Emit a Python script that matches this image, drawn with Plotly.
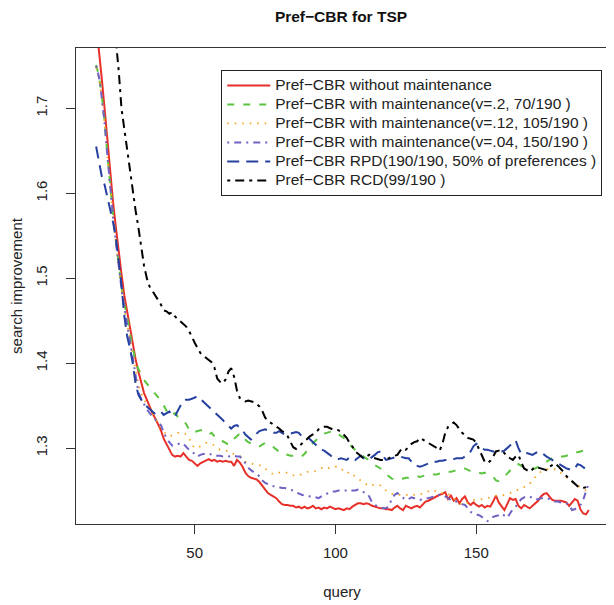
import plotly.graph_objects as go

# ---------------- data ----------------
query = list(range(15, 191))

no_maint = [
    1.800, 1.770, 1.735, 1.700, 1.660, 1.625, 1.590, 1.560, 1.530, 1.505,
    1.480, 1.460, 1.440, 1.425, 1.405, 1.390, 1.376, 1.365, 1.357, 1.348,
    1.341, 1.335, 1.328, 1.321, 1.311, 1.304, 1.299, 1.292, 1.290, 1.291,
    1.290, 1.294, 1.290, 1.286, 1.285, 1.282, 1.279, 1.282, 1.284, 1.285,
    1.287, 1.285, 1.286, 1.284, 1.285, 1.284, 1.285, 1.284, 1.284, 1.279,
    1.286, 1.283, 1.278, 1.271, 1.267, 1.265, 1.264, 1.263, 1.260, 1.256,
    1.251, 1.247, 1.245, 1.243, 1.241, 1.237, 1.234, 1.233, 1.233, 1.232,
    1.232, 1.230, 1.231, 1.229, 1.231, 1.229, 1.230, 1.232, 1.229, 1.230,
    1.228, 1.230, 1.229, 1.231, 1.229, 1.228, 1.229, 1.228, 1.227, 1.229,
    1.228, 1.231, 1.233, 1.235, 1.235, 1.234, 1.235, 1.234, 1.232, 1.231,
    1.230, 1.229, 1.229, 1.228, 1.228, 1.227, 1.230, 1.232, 1.229, 1.227,
    1.232, 1.230, 1.229, 1.231, 1.232, 1.230, 1.234, 1.237, 1.238, 1.240,
    1.241, 1.243, 1.245, 1.246, 1.248, 1.240, 1.244, 1.238, 1.241, 1.235,
    1.240, 1.243, 1.236, 1.233, 1.236, 1.233, 1.231, 1.233, 1.230, 1.232,
    1.231, 1.237, 1.244, 1.236, 1.232, 1.227, 1.234, 1.241, 1.239, 1.240,
    1.232, 1.229, 1.233, 1.231, 1.229, 1.232, 1.235, 1.238, 1.243, 1.246,
    1.247, 1.243, 1.239, 1.238, 1.238, 1.238, 1.237, 1.236, 1.232, 1.236,
    1.240, 1.238, 1.228, 1.223, 1.222, 1.227,
]

maint_v20 = [
    1.751, 1.738, 1.715, 1.685, 1.645, 1.605, 1.575, 1.545, 1.515, 1.490,
    1.470, 1.455, 1.435, 1.418, 1.402, 1.393, 1.386, 1.380, 1.376, 1.372,
    1.368, 1.364, 1.360, 1.356, 1.350, 1.343, 1.338, 1.340, 1.341, 1.337,
    1.335, 1.333, 1.328, 1.322, 1.318, 1.319, 1.320, 1.321, 1.321, 1.318,
    1.316, 1.318, 1.314, 1.310, 1.309, 1.308, 1.306, 1.304, 1.306, 1.311,
    1.314, 1.317, 1.316, 1.310, 1.307, 1.305, 1.304, 1.304, 1.302, 1.304,
    1.306, 1.305, 1.302, 1.301, 1.298, 1.295, 1.293, 1.292, 1.292, 1.291,
    1.291, 1.290, 1.290, 1.290, 1.293, 1.298, 1.302, 1.306, 1.309, 1.313,
    1.315, 1.317, 1.318, 1.319, 1.320, 1.319, 1.316, 1.314, 1.312, 1.308,
    1.305, 1.301, 1.298, 1.296, 1.293, 1.290, 1.288, 1.286, 1.283, 1.280,
    1.278, 1.276, 1.272, 1.269, 1.266, 1.264, 1.263, 1.264, 1.265, 1.264,
    1.265, 1.265, 1.266, 1.267, 1.267, 1.266, 1.267, 1.268, 1.268, 1.269,
    1.269, 1.269, 1.270, 1.271, 1.271, 1.272, 1.272, 1.273, 1.274, 1.275,
    1.276, 1.276, 1.274, 1.272, 1.271, 1.271, 1.271, 1.270, 1.271, 1.269,
    1.268, 1.266, 1.262, 1.261, 1.263, 1.266, 1.270, 1.274, 1.277, 1.280,
    1.281, 1.279, 1.277, 1.276, 1.275, 1.276, 1.276, 1.278, 1.280, 1.283,
    1.285, 1.287, 1.288, 1.289, 1.290, 1.290, 1.290, 1.291, 1.292, 1.293,
    1.295, 1.295, 1.296, 1.297, 1.298, 1.300,
]

maint_v12 = [
    1.748, 1.735, 1.712, 1.682, 1.643, 1.603, 1.572, 1.542, 1.512, 1.487,
    1.465, 1.447, 1.428, 1.410, 1.390, 1.374, 1.365, 1.357, 1.352, 1.346,
    1.340, 1.335, 1.329, 1.323, 1.319, 1.316, 1.314, 1.315, 1.316, 1.318,
    1.318, 1.318, 1.316, 1.312, 1.304, 1.300, 1.301, 1.302, 1.304, 1.306,
    1.306, 1.305, 1.303, 1.300, 1.298, 1.298, 1.297, 1.296, 1.294, 1.293,
    1.292, 1.291, 1.288, 1.284, 1.282, 1.282, 1.281, 1.280, 1.280, 1.278,
    1.276, 1.274, 1.271, 1.269, 1.270, 1.271, 1.272, 1.272, 1.270, 1.269,
    1.268, 1.267, 1.268, 1.269, 1.271, 1.272, 1.272, 1.272, 1.273, 1.275,
    1.277, 1.278, 1.277, 1.276, 1.277, 1.278, 1.278, 1.276, 1.273, 1.270,
    1.272, 1.270, 1.266, 1.264, 1.262, 1.260, 1.258, 1.255, 1.256, 1.257,
    1.257, 1.256, 1.253, 1.250, 1.247, 1.246, 1.246, 1.245, 1.245, 1.244,
    1.245, 1.245, 1.244, 1.245, 1.245, 1.246, 1.246, 1.247, 1.249, 1.251,
    1.250, 1.248, 1.247, 1.247, 1.248, 1.246, 1.244, 1.241, 1.238, 1.235,
    1.233, 1.234, 1.236, 1.238, 1.239, 1.239, 1.239, 1.240, 1.240, 1.241,
    1.242, 1.243, 1.244, 1.244, 1.244, 1.245, 1.246, 1.247, 1.249, 1.250,
    1.251, 1.252, 1.254, 1.255, 1.258, 1.262, 1.266, 1.270, 1.272, 1.274,
    1.275, 1.276, 1.276, 1.275, 1.274, 1.271, 1.268, 1.265, 1.262, 1.260,
    1.258, 1.256, 1.255, 1.253, 1.250, 1.247,
]

maint_v04 = [
    1.750, 1.737, 1.713, 1.683, 1.644, 1.604, 1.573, 1.543, 1.513, 1.488,
    1.466, 1.446, 1.424, 1.402, 1.383, 1.366, 1.358, 1.351, 1.346, 1.341,
    1.337, 1.333, 1.330, 1.327, 1.318, 1.311, 1.307, 1.303, 1.303, 1.305,
    1.306, 1.305, 1.301, 1.298, 1.296, 1.293, 1.290, 1.292, 1.293, 1.293,
    1.292, 1.293, 1.292, 1.291, 1.291, 1.290, 1.290, 1.290, 1.291, 1.291,
    1.290, 1.290, 1.287, 1.282, 1.277, 1.274, 1.271, 1.269, 1.267, 1.262,
    1.259, 1.257, 1.256, 1.255, 1.255, 1.254, 1.253, 1.253, 1.252, 1.251,
    1.250, 1.248, 1.246, 1.245, 1.244, 1.244, 1.243, 1.243, 1.242, 1.241,
    1.243, 1.245, 1.247, 1.248, 1.249, 1.249, 1.250, 1.250, 1.250, 1.250,
    1.249, 1.250, 1.250, 1.251, 1.249, 1.248, 1.247, 1.243, 1.236, 1.233,
    1.231, 1.230, 1.229, 1.229, 1.232, 1.240, 1.245, 1.247, 1.244, 1.241,
    1.239, 1.240, 1.242, 1.241, 1.240, 1.239, 1.240, 1.241, 1.241, 1.242,
    1.243, 1.244, 1.245, 1.245, 1.243, 1.241, 1.239, 1.237, 1.237, 1.236,
    1.234, 1.233, 1.229, 1.225, 1.223, 1.222, 1.221, 1.219, 1.216, 1.214,
    1.216, 1.219, 1.220, 1.221, 1.223, 1.220, 1.218, 1.223, 1.228, 1.231,
    1.236, 1.240, 1.242, 1.243, 1.243, 1.241, 1.239, 1.240, 1.241, 1.241,
    1.241, 1.240, 1.239, 1.237, 1.237, 1.236, 1.235, 1.235, 1.233, 1.227,
    1.228, 1.230, 1.233, 1.239, 1.248, 1.259,
]

rpd = [
    1.655, 1.636, 1.620, 1.610, 1.596, 1.582, 1.566, 1.548, 1.522, 1.492,
    1.456, 1.432, 1.418, 1.400, 1.376, 1.363, 1.357, 1.352, 1.349, 1.346,
    1.343, 1.340, 1.341, 1.343, 1.339, 1.341, 1.343, 1.339, 1.337, 1.344,
    1.350, 1.356, 1.357, 1.357, 1.358, 1.360, 1.361, 1.358, 1.355, 1.351,
    1.349, 1.346, 1.342, 1.339, 1.337, 1.333, 1.329, 1.326, 1.323, 1.326,
    1.327, 1.324, 1.321, 1.316, 1.313, 1.310, 1.312, 1.317, 1.320, 1.321,
    1.322, 1.321, 1.319, 1.318, 1.318, 1.320, 1.318, 1.316, 1.316, 1.317,
    1.318, 1.319, 1.318, 1.314, 1.313, 1.313, 1.310, 1.307, 1.304, 1.300,
    1.298, 1.297, 1.295, 1.292, 1.289, 1.287, 1.287, 1.288, 1.287, 1.286,
    1.289, 1.288, 1.286, 1.288, 1.291, 1.288, 1.286, 1.287, 1.289, 1.292,
    1.295, 1.296, 1.290, 1.286, 1.287, 1.288, 1.289, 1.290, 1.290, 1.289,
    1.288, 1.288, 1.284, 1.280, 1.279, 1.278, 1.279, 1.281, 1.282, 1.283,
    1.284, 1.284, 1.285, 1.285, 1.286, 1.286, 1.287, 1.287, 1.288, 1.288,
    1.288, 1.290, 1.292, 1.296, 1.302, 1.305, 1.302, 1.300, 1.298, 1.298,
    1.297, 1.296, 1.296, 1.296, 1.296, 1.297, 1.300, 1.303, 1.306, 1.309,
    1.300, 1.293, 1.293, 1.294, 1.293, 1.292, 1.294, 1.296, 1.295, 1.292,
    1.290, 1.288, 1.286, 1.284, 1.282, 1.280, 1.278, 1.276, 1.275, 1.274,
    1.276, 1.281, 1.280, 1.277, 1.275, 1.274,
]

rcd = [
    1.980, 1.950, 1.920, 1.890, 1.860, 1.830, 1.800, 1.780, 1.745, 1.700,
    1.675, 1.650, 1.625, 1.605, 1.580, 1.560, 1.535, 1.515, 1.500, 1.490,
    1.485, 1.480, 1.474, 1.469, 1.462, 1.461, 1.458, 1.460, 1.455, 1.452,
    1.448, 1.445, 1.443, 1.438, 1.430, 1.424, 1.418, 1.412, 1.409, 1.406,
    1.404, 1.401, 1.395, 1.382, 1.378, 1.376, 1.381, 1.390, 1.394, 1.384,
    1.368, 1.359, 1.357, 1.355, 1.356, 1.355, 1.354, 1.352, 1.349, 1.344,
    1.336, 1.332, 1.330, 1.327, 1.326, 1.323, 1.320, 1.318, 1.314, 1.307,
    1.301, 1.299, 1.302, 1.306, 1.308, 1.311, 1.314, 1.316, 1.318, 1.322,
    1.324, 1.325, 1.325, 1.323, 1.322, 1.322, 1.321, 1.319, 1.316, 1.312,
    1.306, 1.302, 1.296, 1.293, 1.290, 1.288, 1.290, 1.292, 1.289, 1.288,
    1.287, 1.286, 1.286, 1.287, 1.288, 1.290, 1.291, 1.292, 1.297, 1.300,
    1.298, 1.302, 1.305, 1.307, 1.308, 1.312, 1.310, 1.308, 1.307, 1.305,
    1.303, 1.300, 1.297, 1.305, 1.318, 1.325, 1.328, 1.330, 1.327, 1.322,
    1.318, 1.315, 1.312, 1.311, 1.310, 1.306, 1.298, 1.290, 1.284, 1.282,
    1.285, 1.290, 1.296, 1.297, 1.298, 1.294, 1.290, 1.288, 1.286, 1.290,
    1.292, 1.283, 1.276, 1.274, 1.272, 1.275, 1.278, 1.277, 1.276, 1.275,
    1.274, 1.278, 1.280, 1.282, 1.279, 1.276, 1.272, 1.267, 1.264, 1.261,
    1.258, 1.255, 1.254, 1.253, 1.254, 1.255,
]

series_names = [
    "Pref\u2212CBR without maintenance",
    "Pref\u2212CBR with maintenance(v=.2, 70/190 )",
    "Pref\u2212CBR with maintenance(v=.12, 105/190 )",
    "Pref\u2212CBR with maintenance(v=.04, 150/190 )",
    "Pref\u2212CBR RPD(190/190, 50% of preferences )",
    "Pref\u2212CBR RCD(99/190 )",
]
series_values = [no_maint, maint_v20, maint_v12, maint_v04, rpd, rcd]

x_ticks = [50, 100, 150]
y_ticks = [1.3, 1.4, 1.5, 1.6, 1.7]

# ---------------- styles ----------------
styles = [
    dict(color="#e8302a", width=2, dash="solid"),
    dict(color="#5cc440", width=2, dash="7px,9px"),
    dict(color="#f5a21d", width=1.8, dash="1.5px,6px"),
    dict(color="#6f63c4", width=2, dash="2px,5px,7px,5px"),
    dict(color="#2640a0", width=2, dash="12px,7px"),
    dict(color="#000000", width=2, dash="3px,5px,9px,5px"),
]

FONT = "Liberation Sans, Arial, Helvetica, sans-serif"
LEGEND_TEXT_PX = 15.5

fig = go.Figure()
for name, vals, st in zip(series_names, series_values, styles):
    fig.add_trace(go.Scatter(
        x=query, y=vals, mode="lines",
        name=f'<span style="font-size:{LEGEND_TEXT_PX}px">{name}</span>',
        line=st,
    ))

# the page body has an 8px margin, so the figure is sized to fill the rest
fig.update_layout(
    width=606,
    height=597,
    margin=dict(l=68, r=6, t=40, b=81, autoexpand=False),
    paper_bgcolor="white",
    plot_bgcolor="white",
    font=dict(family=FONT, size=15, color="#222"),
    title=dict(
        text="<b>Pref\u2212CBR for TSP</b>",
        x=0.5495, xanchor="center", y=1.0, yanchor="top",
        pad=dict(t=3),
        font=dict(family=FONT, size=15.5, color="#111"),
    ),
    showlegend=True,
    legend=dict(
        x=0.273, y=0.954, xanchor="left", yanchor="top",
        bgcolor="white", bordercolor="#222", borderwidth=1,
        font=dict(family=FONT, size=12, color="#222"),
        itemwidth=43,
        tracegroupgap=0,
    ),
)

fig.update_xaxes(
    range=[7.85, 196.8],
    tickvals=x_ticks,
    automargin=False,
    ticks="outside", ticklen=9, tickwidth=1, tickcolor="#333",
    ticklabelstandoff=6,
    showline=True, linecolor="#333", linewidth=1, mirror=True,
    showgrid=False, zeroline=False,
    tickfont=dict(family=FONT, size=15, color="#222"),
    title=dict(text="query", standoff=26, font=dict(family=FONT, size=15, color="#222")),
)
fig.update_yaxes(
    range=[1.2106, 1.771],
    tickvals=y_ticks,
    ticktext=[str(v) for v in y_ticks],
    tickangle=-90,
    automargin=False,
    ticks="outside", ticklen=9, tickwidth=1, tickcolor="#333",
    ticklabelstandoff=13,
    showline=True, linecolor="#333", linewidth=1, mirror=True,
    showgrid=False, zeroline=False,
    tickfont=dict(family=FONT, size=15, color="#222"),
    title=dict(text="search improvement", standoff=16, font=dict(family=FONT, size=15, color="#222")),
)

fig.write_html("out.html")
